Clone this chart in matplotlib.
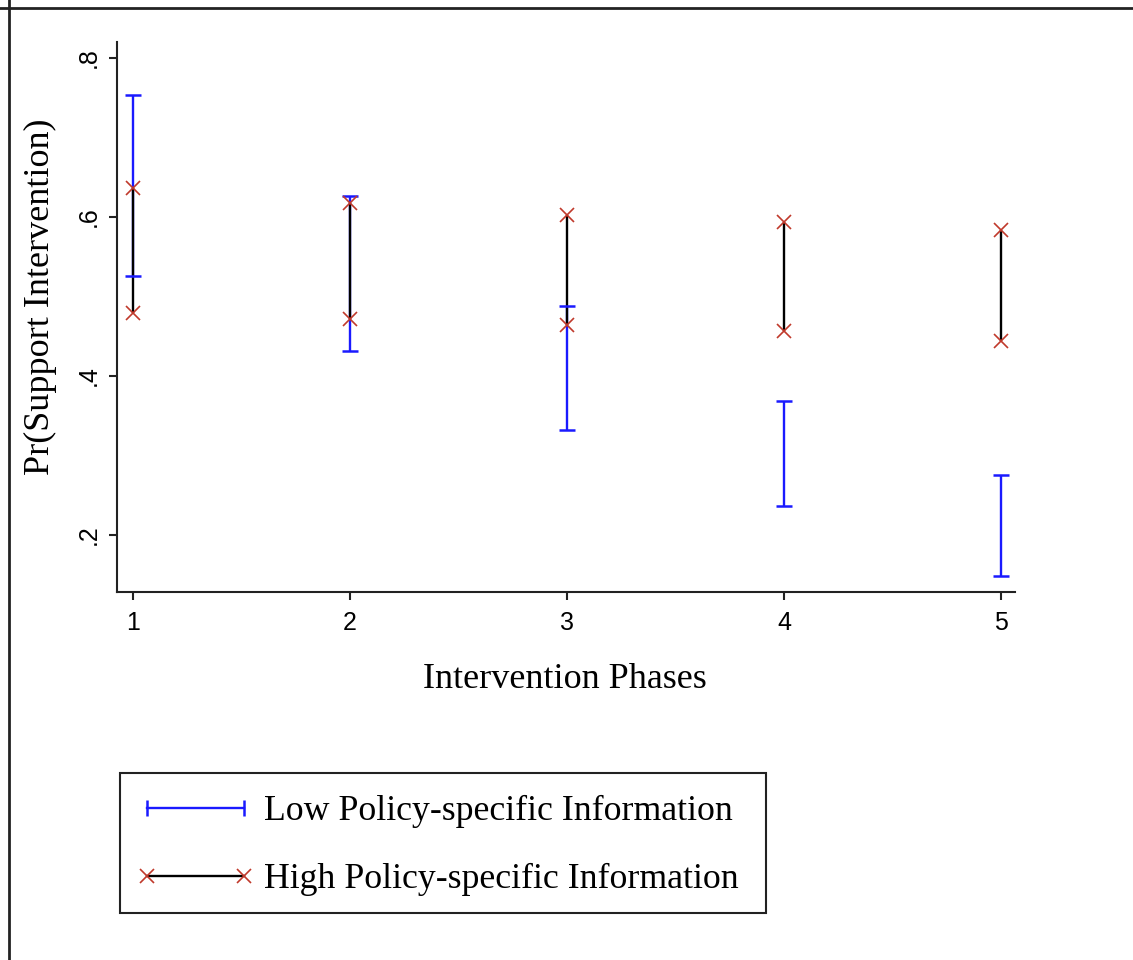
import matplotlib
matplotlib.use("Agg")
import matplotlib.pyplot as plt
from matplotlib.lines import Line2D
from matplotlib.patches import Rectangle
from matplotlib.legend_handler import HandlerLine2D
import numpy as np

phases = [1, 2, 3, 4, 5]
low_lo = [0.526, 0.431, 0.332, 0.237, 0.148]
low_hi = [0.753, 0.626, 0.488, 0.369, 0.275]
high_lo = [0.479, 0.472, 0.464, 0.457, 0.444]
high_hi = [0.636, 0.618, 0.603, 0.594, 0.584]
yticks = [0.2, 0.4, 0.6, 0.8]
ytick_labels = [".2", ".4", ".6", ".8"]
legend_labels = ["Low Policy-specific Information", "High Policy-specific Information"]

BLUE = "#1a1aff"
RED = "#c0392b"
SERIF = ["Liberation Serif", "DejaVu Serif"]
SANS = ["Liberation Sans Narrow", "Liberation Sans", "DejaVu Sans"]

W, H = 1133, 960
fig = plt.figure(figsize=(W / 100, H / 100), dpi=100)
ax = fig.add_axes([117 / W, 1 - 592 / H, (1015 - 117) / W, (592 - 42) / H])

# low: blue stems
ax.vlines(phases, low_lo, low_hi, colors=BLUE, lw=1.7, zorder=2)
# high: black stems
ax.vlines(phases, high_lo, high_hi, colors="black", lw=1.7, zorder=3)
# blue caps
ax.plot(phases, low_lo, ls="none", marker="_", ms=12, mew=1.8, color=BLUE, zorder=4)
ax.plot(phases, low_hi, ls="none", marker="_", ms=12, mew=1.8, color=BLUE, zorder=4)
# red x ends
ax.plot(phases, high_lo, ls="none", marker="x", ms=10, mew=1.2, color=RED, zorder=5)
ax.plot(phases, high_hi, ls="none", marker="x", ms=10, mew=1.2, color=RED, zorder=5)

ax.set_xlim(1 - 16 / 217, 5 + 14 / 217)
ax.set_ylim(0.8 - (592 - 58) / 795, 0.8 + 16 / 795)
ax.set_xticks(phases)
ax.set_xticklabels([str(p) for p in phases], family=SANS, fontsize=18)
ax.set_yticks(yticks)
ax.set_yticklabels(ytick_labels, family=SANS, fontsize=18, rotation=90, va="center")
for s in ["top", "right"]:
    ax.spines[s].set_visible(False)
for s in ["left", "bottom"]:
    ax.spines[s].set_linewidth(1.5)
    ax.spines[s].set_color("#222222")
ax.tick_params(axis="both", direction="out", length=6, width=1.5, color="#222222")
ax.tick_params(axis="x", pad=8)
ax.tick_params(axis="y", pad=6)

fig.text(565 / W, 1 - 680 / H, "Intervention Phases", family=SERIF, fontsize=26,
         ha="center", va="center")
fig.text(40 / W, 1 - 297 / H, "Pr(Support Intervention)", family=SERIF, fontsize=26,
         ha="center", va="center", rotation=90)

# border lines (top and left)
fig.add_artist(Line2D([0, 1], [1 - 8 / H, 1 - 8 / H], transform=fig.transFigure, color="#222222", lw=2))
fig.add_artist(Line2D([9 / W, 9 / W], [0, 1], transform=fig.transFigure, color="#222222", lw=2))

# legend frame
fig.add_artist(Rectangle((120 / W, 1 - 913 / H), (766 - 120) / W, (913 - 773) / H,
                         transform=fig.transFigure, fill=False, edgecolor="#222222", lw=1.5))

handles = [
    Line2D([], [], color=BLUE, lw=1.7, marker="|", ms=12, mew=1.8),
    Line2D([], [], color="black", lw=1.7, marker="x", ms=10, mew=1.2, mec=RED),
]
leg = fig.legend(handles, legend_labels, loc="upper left",
                 bbox_to_anchor=(147 / W, 1 - 795 / H), numpoints=2,
                 handler_map={Line2D: HandlerLine2D(marker_pad=0)},
                 prop={"family": SERIF, "size": 25.75}, frameon=False,
                 handlelength=2.72, handletextpad=0.55,
                 labelspacing=0.98, borderpad=0, borderaxespad=0)

fig.savefig("out.png", dpi=100)
